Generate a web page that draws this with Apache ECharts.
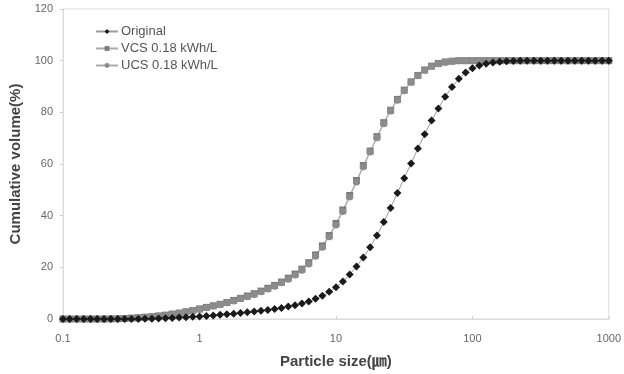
<!DOCTYPE html>
<html>
<head>
<meta charset="utf-8">
<script src="https://cdn.jsdelivr.net/npm/echarts@6/dist/echarts.min.js"></script>
<style>
  html, body { margin: 0; padding: 0; background: #fff; }
  #chart { width: 624px; height: 374px; }
</style>
</head>
<body>
<div id="chart"></div>
<script>
// particle size bins (um), about 20 per decade
var sizes = [0.1, 0.112, 0.126, 0.142, 0.159, 0.178, 0.2, 0.224, 0.252, 0.283,
  0.317, 0.356, 0.399, 0.448, 0.502, 0.564, 0.632, 0.71, 0.796, 0.893,
  1.002, 1.125, 1.262, 1.416, 1.589, 1.783, 2.0, 2.244, 2.518, 2.825,
  3.17, 3.557, 3.991, 4.477, 5.024, 5.637, 6.325, 7.096, 7.962, 8.934,
  10.02, 11.25, 12.62, 14.16, 15.89, 17.83, 20.0, 22.44, 25.18, 28.25,
  31.7, 35.57, 39.9, 44.77, 50.24, 56.37, 63.25, 70.96, 79.62, 89.34,
  100.2, 112.5, 126.2, 141.6, 158.9, 178.3, 200.0, 224.4, 251.8, 282.5,
  317.0, 355.7, 399.1, 447.7, 502.4, 563.7, 632.5, 709.6, 796.2, 893.4, 1000];

var original = [0, 0, 0, 0, 0, 0, 0, 0, 0, 0,
  0, 0, 0.05, 0.1, 0.2, 0.3, 0.4, 0.55, 0.7, 0.85,
  1.0, 1.2, 1.4, 1.6, 1.8, 2.0, 2.3, 2.6, 2.9, 3.2,
  3.5, 3.9, 4.3, 4.8, 5.3, 6.0, 6.8, 7.8, 9.0, 10.5,
  12.3, 14.5, 17.2, 20.3, 23.8, 27.8, 32.3, 37.5, 43.0, 48.8,
  54.5, 60.2, 66.0, 71.5, 76.8, 81.5, 86.0, 89.8, 93.0, 95.4,
  97.1, 98.1, 98.8, 99.3, 99.6, 99.8, 99.9, 100, 100, 100,
  100, 100, 100, 100, 100, 100, 100, 100, 100, 100, 100];

var vcs = [0, 0, 0, 0, 0, 0, 0, 0.05, 0.1, 0.2,
  0.35, 0.5, 0.7, 0.9, 1.2, 1.5, 1.9, 2.3, 2.8, 3.3,
  3.9, 4.5, 5.1, 5.7, 6.4, 7.2, 8.0, 8.9, 9.8, 10.8,
  11.9, 13.0, 14.3, 15.8, 17.4, 19.3, 21.8, 24.8, 28.3, 32.3,
  37.0, 42.2, 47.8, 53.6, 59.4, 65.0, 70.6, 76.0, 80.8, 85.0,
  88.6, 91.8, 94.3, 96.4, 97.9, 98.9, 99.5, 99.8, 100, 100,
  100, 100, 100, 100, 100, 100, 100, 100, 100, 100,
  100, 100, 100, 100, 100, 100, 100, 100, 100, 100, 100];

var ucs = [0, 0, 0, 0, 0, 0, 0, 0.05, 0.1, 0.2,
  0.3, 0.45, 0.65, 0.85, 1.1, 1.4, 1.8, 2.2, 2.7, 3.2,
  3.8, 4.4, 5.0, 5.6, 6.3, 7.0, 7.8, 8.6, 9.5, 10.5,
  11.6, 12.7, 14.0, 15.4, 17.0, 18.9, 21.3, 24.3, 27.8, 31.8,
  36.4, 41.6, 47.2, 53.0, 58.9, 64.6, 70.2, 75.6, 80.5, 84.7,
  88.4, 91.6, 94.2, 96.3, 97.8, 98.8, 99.4, 99.8, 100, 100,
  100, 100, 100, 100, 100, 100, 100, 100, 100, 100,
  100, 100, 100, 100, 100, 100, 100, 100, 100, 100, 100];

var seriesNames = ['Original', 'VCS 0.18 kWh/L', 'UCS 0.18 kWh/L'];

function pairs(ys) {
  var out = [];
  for (var i = 0; i < sizes.length; i++) {
    out.push([sizes[i], ys[i]]);
  }
  return out;
}

var chart = echarts.init(document.getElementById('chart'));
var font = 'Liberation Sans, Arial, sans-serif';
chart.setOption({
  animation: false,
  textStyle: { fontFamily: font },
  grid: { left: 60, right: 13, top: 9, bottom: 54, show: true, borderColor: '#dcdcdc', borderWidth: 1 },
  legend: {
    orient: 'vertical',
    left: 90,
    top: 20,
    itemGap: 4,
    itemWidth: 22,
    itemHeight: 6,
    data: seriesNames,
    textStyle: { fontSize: 13, color: '#555', fontFamily: font, padding: [0, 0, 0, -2] }
  },
  xAxis: {
    type: 'log',
    logBase: 10,
    min: 0.1,
    max: 1000,
    name: 'Particle size(㎛)',
    nameLocation: 'middle',
    nameGap: 35,
    nameTextStyle: { fontSize: 15, fontWeight: 'bold', color: '#444', fontFamily: font + ', Noto Sans CJK KR' },
    axisLine: { lineStyle: { color: '#dcdcdc' } },
    axisTick: { inside: true, length: 3, lineStyle: { color: '#ccc' } },
    axisLabel: {
      fontSize: 11, color: '#666', margin: 14,
      formatter: function (v) { return String(v); }
    },
    splitLine: { show: false },
    minorTick: { show: false }
  },
  yAxis: {
    type: 'value',
    min: 0,
    max: 120,
    interval: 20,
    name: 'Cumulative volume(%)',
    nameLocation: 'middle',
    nameGap: 40,
    nameTextStyle: { fontSize: 15, fontWeight: 'bold', color: '#444' },
    axisLine: { show: true, lineStyle: { color: '#dcdcdc' } },
    axisTick: { show: true, length: 3, lineStyle: { color: '#ccc' } },
    axisLabel: { fontSize: 11, color: '#666', margin: 10 },
    splitLine: { show: false }
  },
  series: [
    {
      name: seriesNames[0],
      type: 'line',
      data: pairs(original),
      symbol: 'diamond',
      symbolSize: 8,
      itemStyle: { color: '#1a1a1a' },
      lineStyle: { color: '#9a9a9a', width: 1 },
      z: 3
    },
    {
      name: seriesNames[1],
      type: 'line',
      data: pairs(vcs),
      symbol: 'rect',
      symbolSize: 7,
      itemStyle: { color: '#7a7a7a' },
      lineStyle: { color: '#aaaaaa', width: 1 },
      z: 2
    },
    {
      name: seriesNames[2],
      type: 'line',
      data: pairs(ucs),
      symbol: 'circle',
      symbolSize: 7,
      itemStyle: { color: '#8c8c8c' },
      lineStyle: { color: '#aaaaaa', width: 1 },
      z: 2
    }
  ]
});
</script>
</body>
</html>
